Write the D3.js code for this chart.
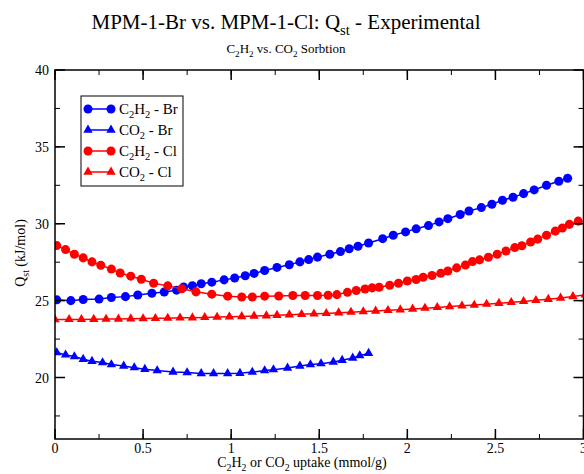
<!DOCTYPE html>
<html>
<head>
<meta charset="utf-8">
<script src="https://cdn.jsdelivr.net/npm/d3@7"></script>
<style>
  body { margin: 0; background: #fff; }
  svg { display: block; font-family: "Liberation Serif", "Times New Roman", serif; }
</style>
</head>
<body>
<div id="chart"></div>
<script>
// C2H2 - Br (blue circles)
var c2h2BrX = [0.01, 0.09, 0.16, 0.25, 0.32, 0.40, 0.47, 0.55, 0.62, 0.69, 0.73, 0.78, 0.83, 0.89, 0.96, 1.02, 1.08, 1.13, 1.19, 1.26,
               1.33, 1.39, 1.44, 1.49, 1.56, 1.62, 1.67, 1.72, 1.78, 1.86, 1.92, 1.99, 2.05, 2.12, 2.18, 2.23, 2.30, 2.35, 2.42, 2.48,
               2.54, 2.60, 2.66, 2.72, 2.79, 2.86, 2.91];
var c2h2BrY = [25.05, 25.00, 25.07, 25.10, 25.20, 25.26, 25.37, 25.48, 25.56, 25.68, 25.89, 25.97, 26.10, 26.20, 26.35, 26.47, 26.62, 26.77, 26.96, 27.16,
               27.33, 27.52, 27.67, 27.83, 28.02, 28.19, 28.37, 28.54, 28.75, 29.03, 29.25, 29.47, 29.67, 29.88, 30.12, 30.33, 30.60, 30.83, 31.05, 31.27,
               31.53, 31.72, 31.96, 32.20, 32.50, 32.76, 32.96];

// CO2 - Br (blue triangles)
var co2BrX = [0.01, 0.06, 0.11, 0.16, 0.21, 0.27, 0.32, 0.39, 0.45, 0.51, 0.58, 0.67, 0.75, 0.83, 0.90, 0.98, 1.05, 1.12, 1.19, 1.24,
              1.32, 1.39, 1.45, 1.51, 1.58, 1.63, 1.69, 1.73, 1.78];
var co2BrY = [21.62, 21.47, 21.36, 21.19, 21.06, 20.97, 20.84, 20.75, 20.64, 20.54, 20.45, 20.36, 20.32, 20.26, 20.26, 20.26, 20.28, 20.35, 20.45, 20.51,
              20.62, 20.75, 20.84, 20.90, 21.01, 21.12, 21.27, 21.42, 21.58];

// C2H2 - Cl (red circles)
var c2h2ClX = [0.01, 0.06, 0.11, 0.16, 0.21, 0.26, 0.32, 0.37, 0.43, 0.49, 0.56, 0.64, 0.72, 0.80, 0.89, 0.98, 1.06, 1.12, 1.19, 1.27,
               1.35, 1.42, 1.49, 1.55, 1.60, 1.66, 1.71, 1.76, 1.80, 1.84, 1.90, 1.95, 2.00, 2.05, 2.09, 2.14, 2.19, 2.23, 2.28, 2.33,
               2.37, 2.41, 2.46, 2.51, 2.56, 2.61, 2.65, 2.70, 2.74, 2.79, 2.84, 2.88, 2.92, 2.97];
var c2h2ClY = [28.58, 28.32, 28.02, 27.78, 27.52, 27.30, 27.05, 26.80, 26.59, 26.39, 26.13, 25.96, 25.77, 25.57, 25.42, 25.29, 25.24, 25.24, 25.29, 25.30,
               25.33, 25.33, 25.33, 25.35, 25.39, 25.54, 25.66, 25.76, 25.83, 25.87, 26.00, 26.13, 26.28, 26.37, 26.52, 26.63, 26.78, 26.93, 27.13, 27.32,
               27.54, 27.65, 27.82, 28.02, 28.23, 28.45, 28.57, 28.81, 29.00, 29.25, 29.52, 29.72, 29.96, 30.17];

// CO2 - Cl (red triangles)
var co2ClX = [0.00, 0.08, 0.15, 0.22, 0.29, 0.36, 0.43, 0.50, 0.57, 0.64, 0.71, 0.78, 0.85, 0.92, 0.99, 1.06, 1.13, 1.20, 1.26, 1.33,
              1.40, 1.47, 1.54, 1.61, 1.68, 1.75, 1.82, 1.89, 1.96, 2.03, 2.10, 2.17, 2.24, 2.31, 2.38, 2.45, 2.52, 2.59, 2.66, 2.73,
              2.80, 2.87, 2.94, 3.01];
var co2ClY = [23.77, 23.78, 23.78, 23.79, 23.80, 23.81, 23.82, 23.83, 23.85, 23.86, 23.88, 23.89, 23.91, 23.93, 23.95, 23.97, 24.00, 24.02, 24.05, 24.08,
              24.11, 24.14, 24.17, 24.21, 24.25, 24.29, 24.33, 24.37, 24.41, 24.46, 24.51, 24.56, 24.61, 24.66, 24.71, 24.77, 24.83, 24.89, 24.95, 25.02,
              25.09, 25.17, 25.27, 25.38];

var xTicks = [0, 0.5, 1, 1.5, 2, 2.5, 3];
var yTicks = [20, 25, 30, 35, 40];

var series = [
  { name: [["C"], ["2", 1], ["H"], ["2", 1], [" - Br"]], xs: c2h2BrX, ys: c2h2BrY, color: "#0000ff", symbol: d3.symbolCircle },
  { name: [["CO"], ["2", 1], [" - Br"]], xs: co2BrX, ys: co2BrY, color: "#0000ff", symbol: d3.symbolTriangle },
  { name: [["C"], ["2", 1], ["H"], ["2", 1], [" - Cl"]], xs: c2h2ClX, ys: c2h2ClY, color: "#ff0000", symbol: d3.symbolCircle },
  { name: [["CO"], ["2", 1], [" - Cl"]], xs: co2ClX, ys: co2ClY, color: "#ff0000", symbol: d3.symbolTriangle }
];

var width = 584, height = 474;
var margin = { top: 70, right: 0.5, bottom: 35, left: 55 };

var svg = d3.select("#chart").append("svg")
    .attr("width", width)
    .attr("height", height);

var x = d3.scaleLinear().domain([0, 3]).range([margin.left, width - margin.right]);
var y = d3.scaleLinear().domain([16, 40]).range([height - margin.bottom, margin.top]);

// write text with subscripts: parts are [string, isSub]
function rich(sel, parts, size) {
  var down = false;
  parts.forEach(function (p) {
    var t = sel.append("tspan").text(p[0]);
    if (p[1] && !down) { t.attr("dy", size * 0.28).attr("font-size", size * 0.7); down = true; }
    else if (p[1]) { t.attr("font-size", size * 0.7); }
    else if (down) { t.attr("dy", -size * 0.28); down = false; }
  });
}

function markSize(s) { return s.symbol === d3.symbolCircle ? 64 : 38; }

// titles
var title = svg.append("text").attr("x", 286).attr("y", 29)
    .attr("text-anchor", "middle").attr("font-size", 21);
rich(title, [["MPM-1-Br vs. MPM-1-Cl: Q"], ["st", 1], [" - Experimental"]], 21);

var sub = svg.append("text").attr("x", 286).attr("y", 53)
    .attr("text-anchor", "middle").attr("font-size", 13);
rich(sub, [["C"], ["2", 1], ["H"], ["2", 1], [" vs. CO"], ["2", 1], [" Sorbtion"]], 13);

// clip for data
svg.append("clipPath").attr("id", "clip").append("rect")
    .attr("x", margin.left).attr("y", margin.top)
    .attr("width", x(3) - margin.left).attr("height", y(16) - margin.top);

var plot = svg.append("g").attr("clip-path", "url(#clip)");

var line = d3.line().x(function (d) { return x(d[0]); }).y(function (d) { return y(d[1]); });

series.forEach(function (s) {
  var pts = s.xs.map(function (v, i) { return [v, s.ys[i]]; });
  plot.append("path").datum(pts)
      .attr("d", line)
      .attr("fill", "none")
      .attr("stroke", s.color)
      .attr("stroke-width", 1.5);
  plot.selectAll(null).data(pts).enter().append("path")
      .attr("d", d3.symbol().type(s.symbol).size(markSize(s)))
      .attr("transform", function (d) { return "translate(" + x(d[0]) + "," + y(d[1]) + ")"; })
      .attr("fill", s.color);
});

// axes with inward ticks, mirrored on top and right
var xMinor = d3.range(0, 3.01, 0.25), yMinor = d3.range(17.5, 40, 2.5);
var axes = svg.append("g").attr("fill", "none").attr("stroke", "#000");

function tickSet(g, vals, len, horizontal) {
  vals.forEach(function (v) {
    if (horizontal) {
      g.append("line").attr("x1", x(v)).attr("x2", x(v)).attr("y1", y(16)).attr("y2", y(16) - len);
      g.append("line").attr("x1", x(v)).attr("x2", x(v)).attr("y1", y(40)).attr("y2", y(40) + len);
    } else {
      g.append("line").attr("y1", y(v)).attr("y2", y(v)).attr("x1", x(0)).attr("x2", x(0) + len);
      g.append("line").attr("y1", y(v)).attr("y2", y(v)).attr("x1", x(3)).attr("x2", x(3) - len);
    }
  });
}
tickSet(axes.append("g").attr("stroke-width", 1), xMinor, 5, true);
tickSet(axes.append("g").attr("stroke-width", 1), yMinor, 5, false);
tickSet(axes.append("g").attr("stroke-width", 1.5), xTicks, 10, true);
tickSet(axes.append("g").attr("stroke-width", 1.5), yTicks, 10, false);

axes.append("rect")
    .attr("x", x(0)).attr("y", y(40))
    .attr("width", x(3) - x(0)).attr("height", y(16) - y(40))
    .attr("stroke-width", 1.5);

svg.append("g").selectAll("text").data(xTicks).enter().append("text")
    .attr("x", function (d) { return x(d); })
    .attr("y", 453)
    .attr("text-anchor", "middle")
    .attr("font-size", 14)
    .text(function (d) { return d; });

svg.append("g").selectAll("text").data(yTicks).enter().append("text")
    .attr("x", 49)
    .attr("y", function (d) { return y(d) + 5; })
    .attr("text-anchor", "end")
    .attr("font-size", 14)
    .text(function (d) { return d; });

// axis labels
var xl = svg.append("text").attr("x", 302).attr("y", 467)
    .attr("text-anchor", "middle").attr("font-size", 14);
rich(xl, [["C"], ["2", 1], ["H"], ["2", 1], [" or CO"], ["2", 1], [" uptake (mmol/g)"]], 14);

var yl = svg.append("text")
    .attr("transform", "translate(25,253) rotate(-90)")
    .attr("text-anchor", "middle").attr("font-size", 14);
rich(yl, [["Q"], ["st", 1], [" (kJ/mol)"]], 14);

// legend
var legend = svg.append("g");
legend.append("rect")
    .attr("x", 81).attr("y", 96).attr("width", 102).attr("height", 90)
    .attr("fill", "#fff").attr("stroke", "#000").attr("stroke-width", 1);

var rows = [109, 130, 151, 172];
series.forEach(function (s, i) {
  var ry = rows[i];
  legend.append("line").attr("x1", 88).attr("x2", 111).attr("y1", ry).attr("y2", ry)
      .attr("stroke", s.color).attr("stroke-width", 1.5);
  [88, 111].forEach(function (px) {
    legend.append("path")
        .attr("d", d3.symbol().type(s.symbol).size(markSize(s)))
        .attr("transform", "translate(" + px + "," + ry + ")")
        .attr("fill", s.color);
  });
  var t = legend.append("text").attr("x", 119).attr("y", ry + 5).attr("font-size", 15);
  rich(t, s.name, 15);
});
</script>
</body>
</html>
